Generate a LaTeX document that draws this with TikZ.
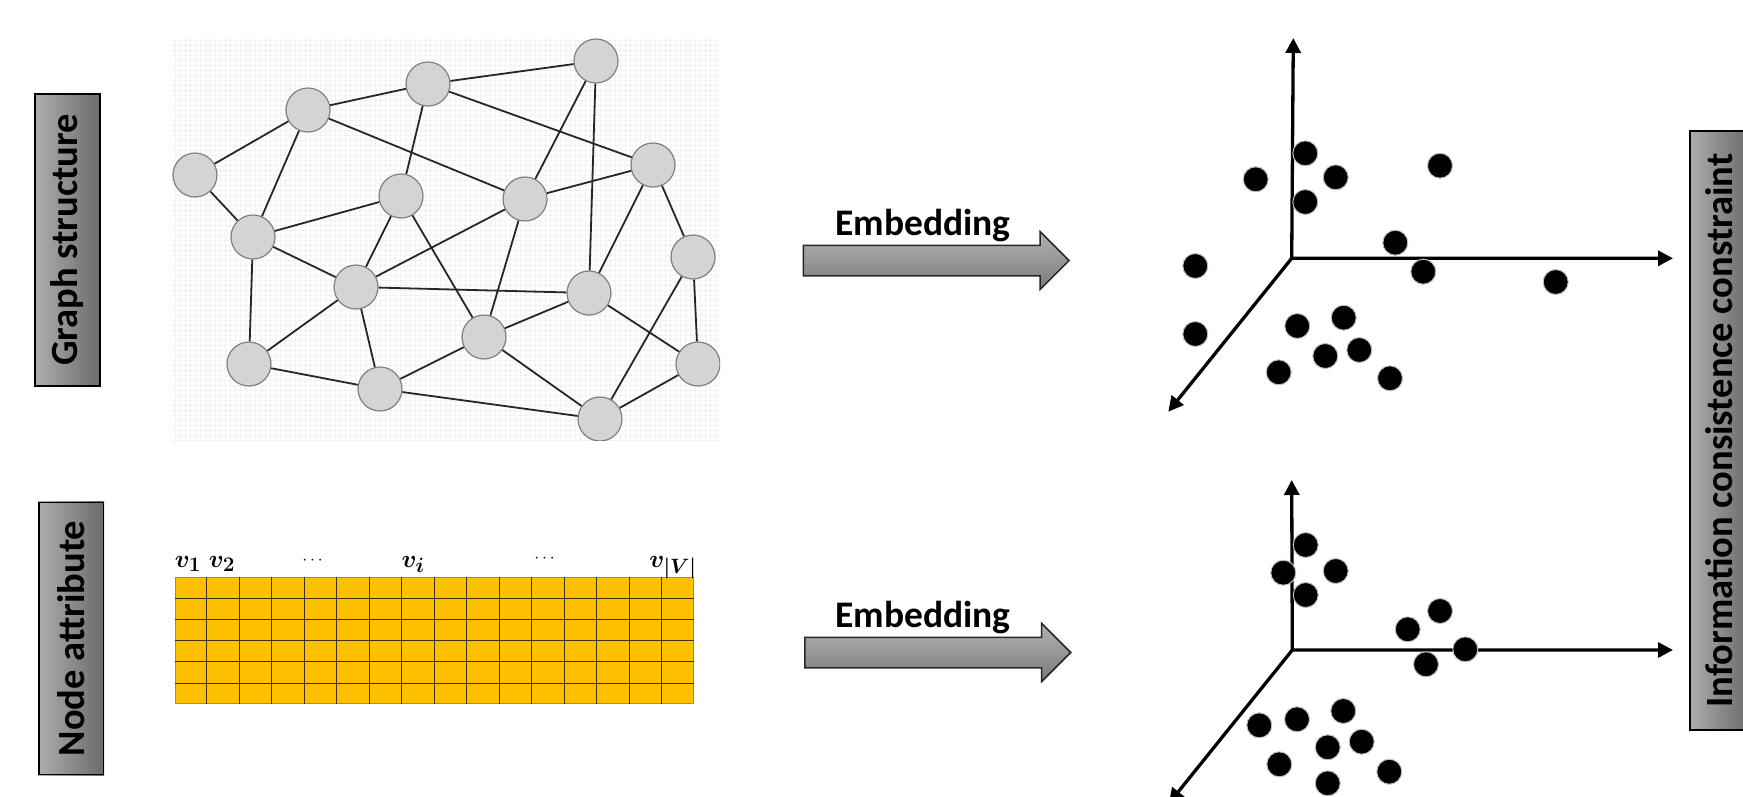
\documentclass[tikz,border=0pt]{standalone}
\usepackage[no-math]{fontspec}
\setmainfont{Carlito}
\usepackage{amsmath,bm}
\usetikzlibrary{positioning,arrows.meta,shapes.arrows,calc,backgrounds}
\definecolor{mx}{RGB}{255,192,0}

\begin{document}
\begin{tikzpicture}[x=1pt,y=-1pt,font=\bfseries,>={Triangle[width=15pt,length=15pt]},
  lab/.style={rectangle,draw=black,line width=1.5pt,rotate=90,font=\bfseries\fontsize{38.5}{40}\selectfont,inner sep=0pt},
  labfill/.style={left color=black!32,middle color=black!38,right color=black!58},
  gn/.style={circle,draw=black!50,fill=black!17,line width=1.2pt,minimum size=44pt,inner sep=0pt},
  ge/.style={black!85,line width=1.8pt},
  emb/.style={single arrow,draw=black!85,line width=1.5pt,top color=black!30,bottom color=black!52,inner xsep=0pt,inner ysep=14.5pt,single arrow head extend=13.8pt,anchor=tail},
  embtxt/.style={anchor=base,font=\bfseries\fontsize{37.5}{40}\selectfont},
  ax/.style={->,line width=3.3pt},
  dot/.style={circle,fill=black,draw=black!25,line width=1pt,minimum size=25pt,inner sep=0pt},
  cell/.style={black!75!mx,line width=1pt},
  hd/.style={anchor=base,font=\fontsize{28}{30}\selectfont}]
\useasboundingbox (0,0) rectangle (1743,796);
\node[lab,minimum width=292pt,minimum height=65pt](gs) at (67.5,240){Graph structure};
\node[lab,minimum width=272pt,minimum height=64.5pt](na) at (71,638.5){Node attribute};
\node[lab,minimum width=599pt,minimum height=58pt](ic) at (1719,430.5){Information consistence constraint};
\begin{scope}[on background layer]
\shade[labfill](gs.south west) rectangle (gs.north east);
\shade[labfill](na.south west) rectangle (na.north east);
\shade[labfill](ic.south west) rectangle (ic.north east);
\end{scope}
\begin{scope}
\clip (172,38) rectangle (720,440);
\draw[black!5,line width=0.4pt,step=5pt] (172,38) grid (720,440);
\node[gn](g1) at (596,61){};
\node[gn](g2) at (428,84){};
\node[gn](g3) at (308,110){};
\node[gn](g4) at (195,175){};
\node[gn](g5) at (653,165){};
\node[gn](g6) at (401,196){};
\node[gn](g7) at (525,199){};
\node[gn](g8) at (253,237){};
\node[gn](g9) at (693,257){};
\node[gn](g10) at (356,287){};
\node[gn](g11) at (589,293){};
\node[gn](g12) at (484,337){};
\node[gn](g13) at (249,364){};
\node[gn](g14) at (380,389){};
\node[gn](g15) at (698,364){};
\node[gn](g16) at (600,419){};
\draw[ge](g3)--(g2);\draw[ge](g2)--(g1);\draw[ge](g4)--(g3);\draw[ge](g3)--(g8);
\draw[ge](g3)--(g7);\draw[ge](g2)--(g6);\draw[ge](g2)--(g5);\draw[ge](g1)--(g7);
\draw[ge](g1)--(g11);\draw[ge](g4)--(g8);\draw[ge](g8)--(g6);\draw[ge](g7)--(g5);
\draw[ge](g8)--(g10);\draw[ge](g8)--(g13);\draw[ge](g6)--(g10);\draw[ge](g6)--(g12);
\draw[ge](g7)--(g10);\draw[ge](g7)--(g12);\draw[ge](g5)--(g11);\draw[ge](g5)--(g9);
\draw[ge](g10)--(g11);\draw[ge](g10)--(g13);\draw[ge](g10)--(g14);\draw[ge](g11)--(g12);
\draw[ge](g11)--(g15);\draw[ge](g9)--(g16);\draw[ge](g9)--(g15);\draw[ge](g13)--(g14);
\draw[ge](g12)--(g14);\draw[ge](g12)--(g16);\draw[ge](g14)--(g16);\draw[ge](g15)--(g16);
\end{scope}
\node[rectangle,draw=black!45,line width=1pt,fill=mx,minimum width=518.5pt,minimum height=126pt,inner sep=0pt,anchor=north west](attr) at (174.5,577.3){};
\foreach \i in {1,...,15} \draw[cell]($(attr.north west)!\i/16!(attr.north east)$)--($(attr.south west)!\i/16!(attr.south east)$);
\foreach \j in {1,...,5} \draw[cell]($(attr.north west)!\j/6!(attr.south west)$)--($(attr.north east)!\j/6!(attr.south east)$);
\node[hd](h1) at (188,567){$\bm{v}_{\bm{1}}$};
\node[hd](h2) at (222,567){$\bm{v}_{\bm{2}}$};
\node[hd,font=\fontsize{16}{18}\selectfont](d1) at (314,564){$\cdots$};
\node[hd](hi) at (413,567){$\bm{v}_{\bm{i}}$};
\node[hd,font=\fontsize{16}{18}\selectfont](d2) at (546,562){$\cdots$};
\node[hd](hv) at (673,567){$\bm{v}_{\bm{|V|}}$};
\node[emb,minimum height=265.6pt](emb1) at (802.7,260.5){};
\node[embtxt](t1) at (923,235){Embedding};
\node[emb,minimum height=266pt](emb2) at (804,652.5){};
\node[embtxt](t2) at (923,627.3){Embedding};
\coordinate (o1) at (1291.7,258.3);
\coordinate (y1) at (1293.3,38);
\coordinate (x1) at (1673,258.3);
\coordinate (z1) at (1168.3,411.7);
\draw[ax,<->](y1)--(o1)--(x1);\draw[ax](o1)--(z1);
\foreach \x/\y [count=\i] in {1305.3/153.3,1255.7/179.3,1335.7/177.3,1305.3/202,1440/165.7,1395.3/242.7,1423.3/271.7,1555.7/282,1195.3/266,1195.3/334,1343.7/317.7,1297.3/326,1359.3/350,1325.3/356,1278.7/372.3,1390/378.3}
  \node[dot](a\i) at (\x,\y){};
\coordinate (o2) at (1292.3,650);
\coordinate (y2) at (1291.7,480);
\coordinate (x2) at (1673,650);
\coordinate (z2) at (1168.9,803.4);
\draw[ax,<->](y2)--(o2)--(x2);\draw[ax](o2)--(z2);
\foreach \x/\y [count=\i] in {1305.7/545,1283.3/572.7,1335.7/571,1305.7/595,1440/611,1407.7/629.3,1465.3/649.3,1426/664.3,1343.3/711,1297/719.3,1259.3/725.3,1361.7/741.7,1327.7/747.3,1279.3/764.3,1389.3/771.7,1327.7/783.3}
  \node[dot](b\i) at (\x,\y){};
\end{tikzpicture}
\end{document}
